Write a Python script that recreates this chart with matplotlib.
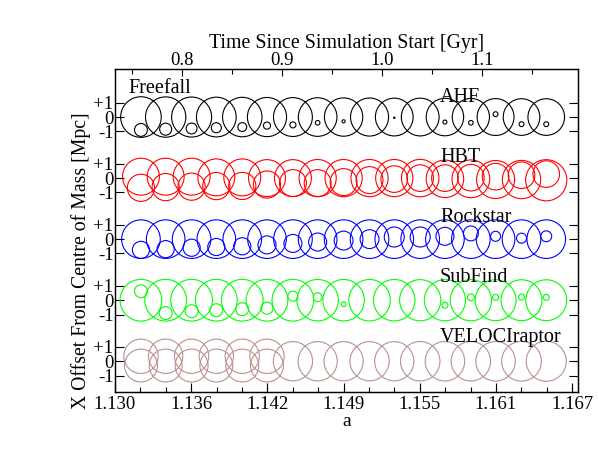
import numpy as np
import matplotlib
matplotlib.use("Agg")
import matplotlib.pyplot as plt

plt.rcParams['font.family'] = ['Liberation Serif', 'DejaVu Serif']

# scale factor of each snapshot
a_snap = [1.1321, 1.1341, 1.1362, 1.1382, 1.1403, 1.1423, 1.1444, 1.1464, 1.1485,
          1.1506, 1.1526, 1.1547, 1.1567, 1.1588, 1.1608, 1.1629, 1.1649]
a_ticks = [1.130, 1.13617, 1.14233, 1.1485, 1.15467, 1.16083, 1.167]
a_labels = ['1.130', '1.136', '1.142', '1.149', '1.155', '1.161', '1.167']
t_ticks = [0.8, 0.9, 1.0, 1.1]
nan = np.nan

# radii [Mpc] and x offsets [Mpc] of host (big) and subhalo (small) per finder
ff_host_r = [1.42, 1.41, 1.40, 1.39, 1.38, 1.37, 1.36, 1.35, 1.34, 1.33, 1.32, 1.32, 1.31, 1.30, 1.29, 1.28, 1.28]
ff_host_y = [0.0] * 17
ff_sub_r = [0.45, 0.42, 0.38, 0.35, 0.31, 0.25, 0.21, 0.16, 0.11, nan, 0.05, nan, 0.14, 0.16, 0.17, 0.17, 0.17]
ff_sub_y = [-0.9, -0.85, -0.8, -0.75, -0.7, -0.6, -0.55, -0.4, -0.3, nan, -0.05, nan, -0.35, -0.4, 0.2, -0.5, -0.5]

hbt_host_r = [1.29, 1.29, 1.29, 1.29, 1.29, 1.29, 1.29, 1.30, 1.30, 1.30, 1.30, 1.31, 1.31, 1.32, 1.33, 1.34, 1.44]
hbt_host_y = [0.1, 0.1, 0.1, 0.05, 0.05, 0.0, 0.0, 0.0, 0.0, 0.0, 0.0, 0.0, -0.05, -0.05, -0.1, -0.1, -0.15]
hbt_sub_r = [0.95, 0.95, 0.95, 0.95, 0.95, 0.95, 0.94, 0.94, 0.94, 0.94, 0.93, 0.93, 0.93, 0.93, 0.93, 0.93, 0.93]
hbt_sub_y = [-0.68, -0.63, -0.6, -0.56, -0.55, -0.45, -0.35, -0.35, -0.28, -0.14, -0.07, 0.0, 0.0, 0.03, 0.1, 0.2, 0.28]

rs_host_r = [1.35] * 17
rs_host_y = [0.0] * 17
rs_sub_r = [0.6, 0.6, 0.6, 0.6, 0.6, 0.63, 0.63, 0.63, 0.66, 0.66, 0.7, 0.7, 0.63, 0.52, 0.35, 0.35, 0.38]
rs_sub_y = [-0.75, -0.7, -0.6, -0.55, -0.5, -0.4, -0.3, -0.2, -0.1, 0.0, 0.15, 0.15, 0.2, 0.4, 0.2, 0.07, 0.2]

sf_host_r = [1.46, 1.46, 1.46, 1.46, 1.46, 1.46, 1.46, 1.45, 1.45, 1.45, 1.45, 1.44, 1.44, 1.44, 1.43, 1.43, 1.43]
sf_host_y = [0.0] * 17
sf_sub_r = [0.45, 0.45, 0.45, 0.45, 0.45, 0.42, 0.35, 0.31, 0.17, nan, nan, nan, 0.21, 0.24, 0.21, 0.21, 0.21]
sf_sub_y = [0.63, -0.9, -0.77, -0.7, -0.63, -0.56, 0.28, 0.21, -0.28, nan, nan, nan, -0.35, 0.2, 0.2, 0.22, 0.2]

vr_host_r = [1.2, 1.2, 1.2, 1.2, 1.2, 1.2, 1.37, 1.37, 1.37, 1.37, 1.37, 1.38, 1.38, 1.38, 1.38, 1.39, 1.4]
vr_host_y = [0.35, 0.35, 0.35, 0.35, 0.35, 0.35, 0.0, 0.0, 0.0, 0.0, 0.0, 0.0, 0.0, 0.0, 0.0, 0.0, 0.0]
vr_sub_r = [1.15] * 6 + [nan] * 11
vr_sub_y = [-0.3] * 6 + [nan] * 11

rows = [
    (ff_host_r, ff_host_y, ff_sub_r, ff_sub_y, 'black'),
    (hbt_host_r, hbt_host_y, hbt_sub_r, hbt_sub_y, 'red'),
    (rs_host_r, rs_host_y, rs_sub_r, rs_sub_y, 'blue'),
    (sf_host_r, sf_host_y, sf_sub_r, sf_sub_y, '#00ff00'),
    (vr_host_r, vr_host_y, vr_sub_r, vr_sub_y, '#bc8f8f'),
]
names = ['AHF', 'HBT', 'Rockstar', 'SubFind', 'VELOCIraptor']
name_dy = [1.05, 1.12, 1.2, 1.27, 1.35]
spacing = 4.27

fig = plt.figure(figsize=(5.98, 4.62), dpi=100)
ax = fig.add_axes([115/598, 70/462, 463/598, 323/462])
ylo, yhi = -19.23, 3.36
ax.set_xlim(1.130, 1.16747)
ax.set_ylim(ylo, yhi)

# pixels per Mpc on the y axis, used to size the circle markers
ppu = 323 / (yhi - ylo)

def msize(r):
    d = np.array(r, dtype=float) * 2 * ppu * 72 / 100
    return d**2

yt, yl = [], []
for i, (hr, hy, sr, sy, c) in enumerate(rows):
    off = -i * spacing
    ax.scatter(a_snap, np.array(hy) + off, s=msize(hr), facecolors='none',
               edgecolors=c, linewidths=0.8, zorder=2)
    ax.scatter(a_snap, np.array(sy) + off, s=msize(sr), facecolors='none',
               edgecolors=c, linewidths=0.8, zorder=3)
    yt += [off + 1, off, off - 1]
    yl += ['+1', '0', '-1']
    ax.text(1.1563, off + name_dy[i], names[i], fontsize=14.5)

ax.text(1.1311, 1.7, 'Freefall', fontsize=14.5)

fs = 13.5
ax.set_yticks(yt)
ax.set_yticklabels(yl, fontsize=fs)
ax.set_xticks(a_ticks)
ax.set_xticklabels(a_labels, fontsize=fs)
ax.set_xticks(np.arange(1.130, 1.1675, 0.0020556), minor=True)
ax.tick_params(which='major', direction='in', length=6.5, width=0.8, right=True, pad=3)
ax.tick_params(which='minor', direction='in', length=3.5, width=0.8)
ax.tick_params(axis='y', pad=1)
ax.set_xlabel('a', fontsize=14, labelpad=0)
ax.set_ylabel('X Offset From Centre of Mass [Mpc]', fontsize=14.2)
ax.yaxis.set_label_coords(-0.052, 0.408)

ax2 = ax.twiny()
ax2.set_xlim(0.733, 1.196)
ax2.set_xticks(t_ticks)
ax2.set_xticklabels(['0.8', '0.9', '1.0', '1.1'], fontsize=fs)
ax2.set_xticks(np.arange(0.75, 1.2, 0.05), minor=True)
ax2.tick_params(which='major', direction='in', length=5, width=0.8, pad=0)
ax2.tick_params(which='minor', direction='in', length=3.5, width=0.8)
ax2.set_xlabel('Time Since Simulation Start [Gyr]', fontsize=14.3, labelpad=3)

for a_ in (ax, ax2):
    for sp in a_.spines.values():
        sp.set_linewidth(0.9)

fig.savefig('out.png', dpi=100)
